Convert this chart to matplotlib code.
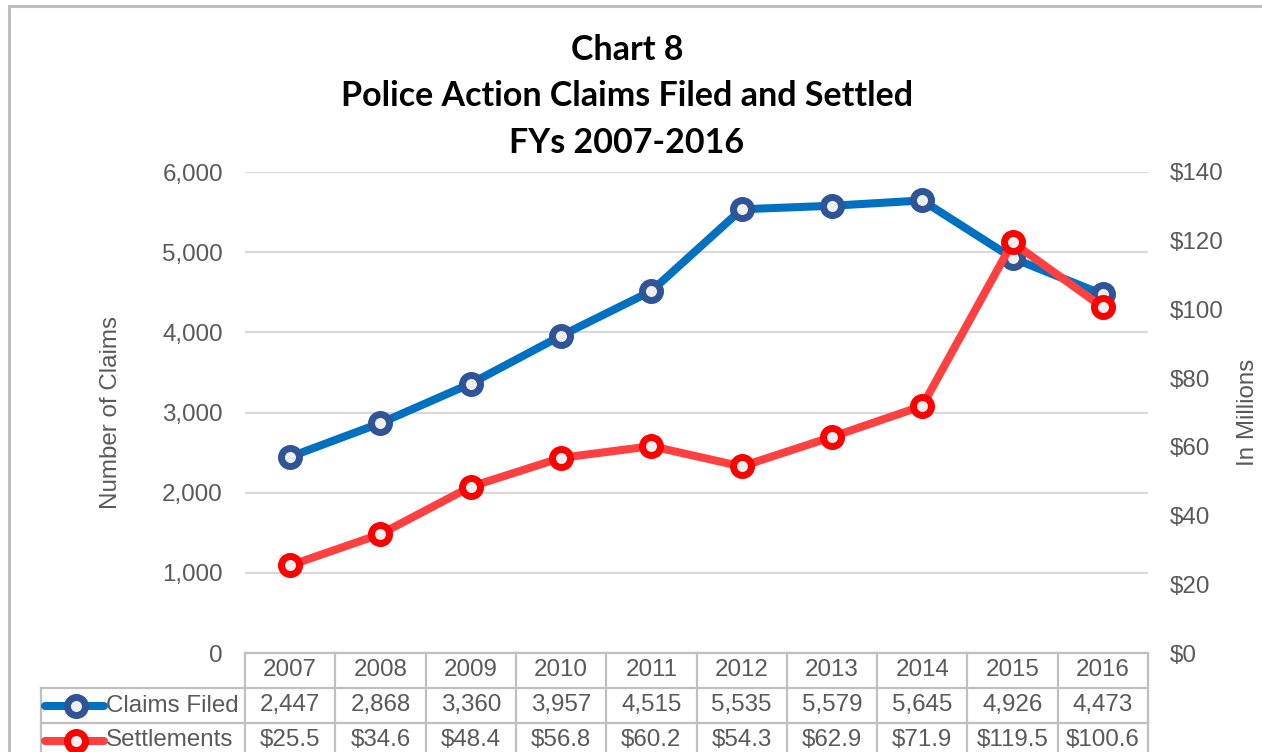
import matplotlib
matplotlib.use("Agg")
import matplotlib.pyplot as plt
from matplotlib.lines import Line2D
from matplotlib.patches import Rectangle
from matplotlib.ticker import FuncFormatter
import matplotlib.transforms as mtransforms

years = [2007, 2008, 2009, 2010, 2011, 2012, 2013, 2014, 2015, 2016]
claims = [2447, 2868, 3360, 3957, 4515, 5535, 5579, 5645, 4926, 4473]
settlements = [25.5, 34.6, 48.4, 56.8, 60.2, 54.3, 62.9, 71.9, 119.5, 100.6]

series_names = ["Claims Filed", "Settlements"]
claims_txt = [f"{v:,}" for v in claims]
settle_txt = [f"${v:.1f}" for v in settlements]

blue = "#0070C0"
blue_edge = "#2F5597"
red = "#FF4040"
red_edge = "#FF0000"
face = "#EFEFEF"
gray = "#595959"
grid_c = "#D9D9D9"
border_c = "#BFBFBF"
fs = 17.4

plt.rcParams["font.family"] = ["Liberation Sans", "DejaVu Sans"]

W, H = 1262, 752
fig = plt.figure(figsize=(W / 100, H / 100), dpi=100)
ax = fig.add_axes([245 / W, 1 - 653 / H, (1148 - 245) / W, (653 - 172) / H])
ax2 = ax.twinx()

x = list(range(len(years)))

mk = dict(marker="o", ms=13, mew=5, mfc=face)
line_kw = dict(lw=5.8, solid_capstyle="round", clip_on=False, **mk)
ax.plot(x, claims, color=blue, mec=blue_edge, zorder=3, **line_kw)
ax2.plot(x, settlements, color=red, mec=red_edge, zorder=3, **line_kw)

ax.set_xlim(-0.5, len(years) - 0.5)
ax.set_ylim(0, 6000)
ax.set_yticks(range(0, 6001, 1000))
ax.yaxis.set_major_formatter(FuncFormatter(lambda v, p: f"{int(v):,}"))
ax2.set_ylim(0, 140)
ax2.set_yticks(range(0, 141, 20))
ax2.yaxis.set_major_formatter(FuncFormatter(lambda v, p: f"${int(v)}"))

ax.grid(axis="y", color=grid_c, lw=1.6)
ax.set_axisbelow(True)
ax.set_xticks([])
for a in (ax, ax2):
    for s in a.spines.values():
        s.set_visible(False)
    a.tick_params(axis="y", length=0, pad=16, labelsize=fs, labelcolor=gray)
# settlements line drawn above claims line
ax.set_zorder(1)
ax2.set_zorder(2)
ax2.patch.set_visible(False)

ax.set_ylabel("Number of Claims", fontsize=fs, color=gray)
ax.yaxis.set_label_coords(-0.136, 0.5)
ax2.set_ylabel("In Millions", fontsize=fs, color=gray)
ax2.yaxis.set_label_coords(1.0986, 0.5)

# title
for i, t in enumerate(["Chart 8", "Police Action Claims Filed and Settled", "FYs 2007-2016"]):
    fig.text(627 / W, 1 - (50 + 46.5 * i) / H, t, ha="center", va="center",
             fontsize=24.5, fontweight="bold", family=["Lato", "DejaVu Sans"], color="black")

# data table under the plot
rh = 35 / 481  # row height in axes fraction
label_left = (41 - 245) / 903
bt = mtransforms.blended_transform_factory(ax.transData, ax.transAxes)
tk = dict(fontsize=fs, color=gray, ha="center", va="center", clip_on=False)

def hline(x0, x1, y, tr):
    ax.add_line(Line2D([x0, x1], [y, y], transform=tr, color=border_c, lw=1.6, clip_on=False))

def vline(xv, y0, y1, tr):
    ax.add_line(Line2D([xv, xv], [y0, y1], transform=tr, color=border_c, lw=1.6, clip_on=False))

hline(0, 1, 0, ax.transAxes)
hline(label_left, 1, -rh, ax.transAxes)
hline(label_left, 1, -2 * rh, ax.transAxes)
hline(label_left, 1, -3 * rh, ax.transAxes)
for i in range(len(years) + 1):
    vline(i - 0.5, 0, -3.2 * rh, bt)
vline(label_left, -rh, -3.2 * rh, ax.transAxes)

for i, yr in enumerate(years):
    ax.text(i, -0.5 * rh, str(yr), transform=bt, **tk)
    ax.text(i, -1.5 * rh, claims_txt[i], transform=bt, **tk)
    ax.text(i, -2.5 * rh, settle_txt[i], transform=bt, **tk)

# legend keys in the table
key_x0, key_x1, key_m = (45 - 245) / 903, (104 - 245) / 903, (76 - 245) / 903
for r, (name, c, ec) in enumerate(zip(series_names, [blue, red], [blue_edge, red_edge])):
    yy = -(1.5 + r) * rh
    ax.add_line(Line2D([key_x0, key_x1], [yy, yy], transform=ax.transAxes, color=c, lw=5.8,
                       solid_capstyle="round", clip_on=False))
    ax.add_line(Line2D([key_m], [yy], transform=ax.transAxes, mec=ec, clip_on=False, **mk))
    ax.text((106 - 245) / 903, yy, name, transform=ax.transAxes, fontsize=fs, color=gray,
            ha="left", va="center", clip_on=False)

# chart border
fig.patches.append(Rectangle((9 / W, -0.05), 1.2, 1 - 6 / H + 0.05, transform=fig.transFigure,
                             fill=False, edgecolor=border_c, lw=2.2))

fig.savefig("out.png", dpi=100)
